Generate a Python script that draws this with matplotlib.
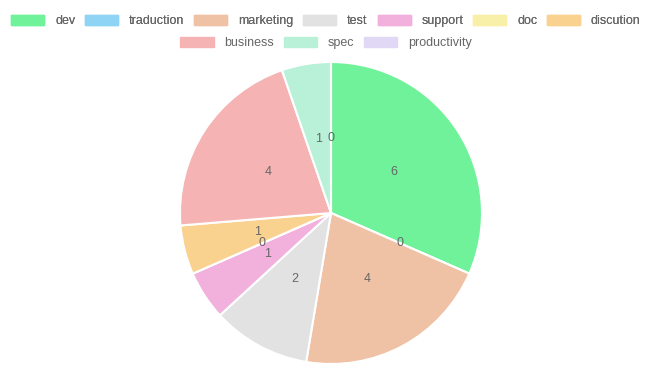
import matplotlib
matplotlib.use('Agg')
import matplotlib.pyplot as plt
from matplotlib.patches import Patch

plt.rcParams['font.family'] = ['Liberation Sans', 'DejaVu Sans']

categories = ["dev", "traduction", "marketing", "test", "support", "doc",
              "discution", "business", "spec", "productivity"]
values = [6, 0, 4, 2, 1, 0, 1, 4, 1, 0]
colors = ["#70F29A", "#8FD3F5", "#F0C2A5", "#E2E2E2", "#F2B0DD", "#F8F0A8",
          "#F9D28F", "#F5B3B3", "#B9F0D8", "#E1D8F5"]

total = sum(values)
text_color = "#666666"

fig = plt.figure(figsize=(6.52, 3.73), dpi=100)
ax = fig.add_axes([180 / 652, 9 / 373, 302 / 652, 302 / 373])

ax.pie(
    values,
    colors=colors,
    startangle=90,
    counterclock=False,
    autopct=lambda p: f"{round(p * total / 100)}",
    pctdistance=0.5,
    wedgeprops=dict(edgecolor="white", linewidth=1.5),
    textprops=dict(color=text_color, fontsize=9),
)
ax.set_xlim(-1, 1)
ax.set_ylim(-1, 1)
ax.set_aspect("equal")

handles = [Patch(facecolor=c, edgecolor=c, label=l) for c, l in zip(colors, categories)]

leg_kw = dict(frameon=False, fontsize=9, handlelength=2.65, handleheight=0.9,
              handletextpad=0.85, columnspacing=0.8, labelcolor=text_color,
              borderaxespad=0, borderpad=0)
leg1 = fig.legend(handles=handles[:7], ncol=7, loc="center",
                  bbox_to_anchor=(0.5, 1 - 21 / 373), **leg_kw)
fig.add_artist(leg1)
fig.legend(handles=handles[7:], ncol=3, loc="center",
           bbox_to_anchor=(0.5, 1 - 43 / 373), **leg_kw)

fig.savefig("out.png", dpi=100)
